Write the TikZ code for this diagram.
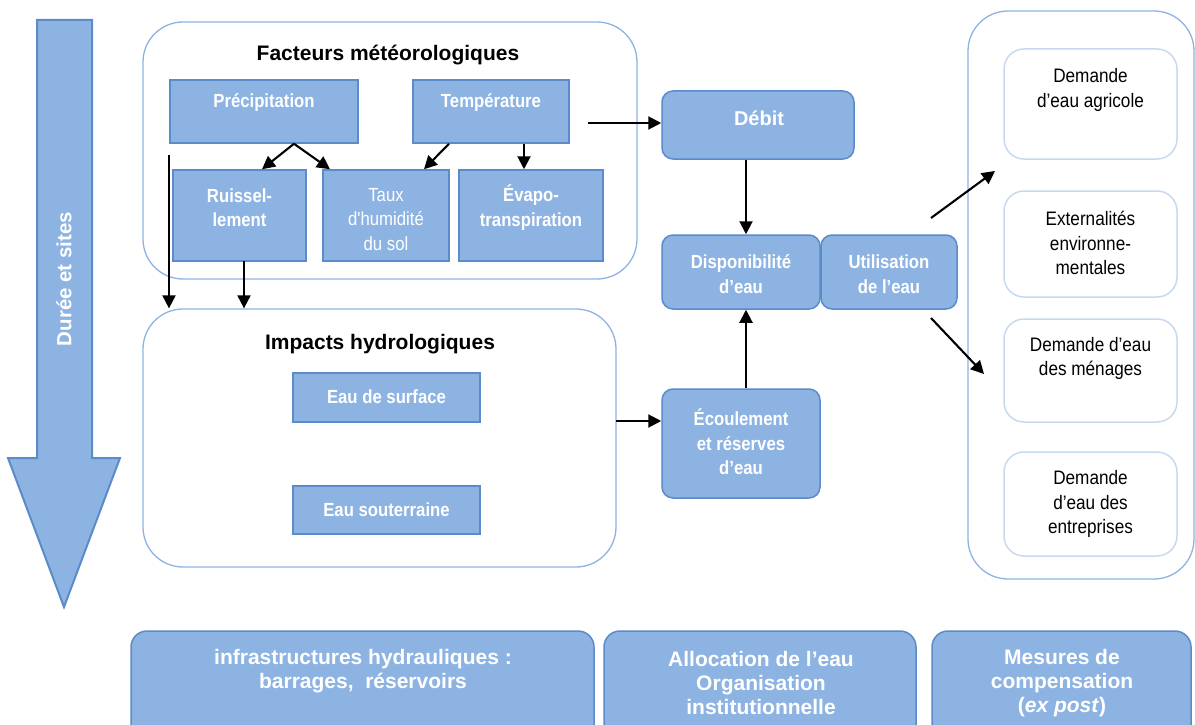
\documentclass[tikz,border=0pt]{standalone}
\usepackage{fontspec}
\setmainfont{Liberation Sans}
\newfontfamily\nar[FakeStretch=0.88]{Liberation Sans}
\usetikzlibrary{arrows.meta}
\definecolor{fillblue}{HTML}{8DB3E2}
\definecolor{edgeblue}{HTML}{5B8BC9}
\definecolor{contblue}{HTML}{8DB3E2}
\definecolor{paleblue}{HTML}{C6D9F1}
\begin{document}
\begin{tikzpicture}[x=1pt,y=-1pt,
  box/.style={rectangle, fill=fillblue, draw=edgeblue, line width=1.5pt, inner sep=0pt},
  rbox/.style={box, rounded corners=11pt},
  cont/.style={rectangle, draw=contblue, line width=1.3pt, rounded corners=40pt, inner sep=0pt},
  wbox/.style={rectangle, draw=paleblue, line width=1.5pt, rounded corners=20pt, inner sep=0pt},
  wl/.style={text=white, font=\nar\fontsize{19}{24.5}\selectfont\bfseries, align=center, inner sep=0pt},
  wb/.style={text=white, font=\fontsize{19}{24}\selectfont\bfseries, align=center, inner sep=0pt},
  wn/.style={text=white, font=\nar\fontsize{19}{24.5}\selectfont, align=center, inner sep=0pt},
  bl/.style={text=black, font=\nar\fontsize{19.5}{24.5}\selectfont, align=center, inner sep=0pt},
  ttl/.style={text=black, font=\fontsize{21}{25}\selectfont\bfseries, inner sep=0pt},
  arr/.style={line width=2.1pt, -{Triangle[length=13pt,width=13pt]}}
]
\useasboundingbox (0,0) rectangle (1195,725);
\clip (0,0) rectangle (1195,725);

% big arrow
\draw[fill=fillblue, draw=edgeblue, line width=2pt, line join=miter]
  (37,20) -- (92,20) -- (92,458) -- (120,458) -- (64,607) -- (8,458) -- (37,458) -- cycle;
\node[rotate=90, text=white, font=\fontsize{20.5}{24}\selectfont\bfseries, inner sep=0pt] (duree) at (64,279) {Durée et sites};

% containers
\node[cont, minimum width=494pt, minimum height=257pt] (fact) at (390,150.5) {};
\node[ttl] (factT) at (388,55) {Facteurs météorologiques};
\node[cont, minimum width=473pt, minimum height=258pt] (impacts) at (379.5,438) {};
\node[ttl] (impT) at (380,344) {Impacts hydrologiques};
\node[cont, minimum width=226pt, minimum height=568pt] (usage) at (1081,295) {};

% top boxes
\node[box, minimum width=188pt, minimum height=63pt] (precip) at (264,111.5) {};
\node[wl] (precipT) at (264,103) {Précipitation};
\node[box, minimum width=156pt, minimum height=63pt] (temp) at (491,111.5) {};
\node[wl] (tempT) at (491,103) {Température};
\node[box, minimum width=133pt, minimum height=91pt] (ruis) at (239.5,215.5) {};
\node[wl] (ruisT) at (239.5,207.5) {Ruissel-\\lement};
\node[box, minimum width=126pt, minimum height=91pt] (taux) at (386,215.5) {};
\node[wn] (tauxT) at (386,219.5) {Taux\\d'humidité\\du sol};
\node[box, minimum width=144pt, minimum height=91pt] (evap) at (531,215.5) {};
\node[wl] (evapT) at (531,207.5) {Évapo-\\transpiration};

% middle column
\node[rbox, minimum width=192pt, minimum height=68pt] (debit) at (758,125) {};
\node[wb, font=\fontsize{20}{24}\selectfont\bfseries] (debitT) at (759,118) {Débit};
\node[rbox, minimum width=158pt, minimum height=74pt] (dispo) at (741,272) {};
\node[wl] (dispoT) at (741,274) {Disponibilité\\d’eau};
\node[rbox, minimum width=136pt, minimum height=74pt] (util) at (889,272) {};
\node[wl] (utilT) at (889,274) {Utilisation\\de l’eau};
\node[rbox, minimum width=158pt, minimum height=109pt] (ecoul) at (741,443.5) {};
\node[wl] (ecoulT) at (741,442) {Écoulement\\et réserves\\d’eau};

% impacts boxes
\node[box, minimum width=187pt, minimum height=49pt] (surf) at (386.5,397.5) {};
\node[wl] (surfT) at (386.5,397) {Eau de surface};
\node[box, minimum width=187pt, minimum height=48pt] (sout) at (386.5,510) {};
\node[wl] (soutT) at (386.5,510) {Eau souterraine};

% right boxes
\node[wbox, minimum width=173pt, minimum height=110pt] (agri) at (1090.5,104) {};
\node[bl] (agriT) at (1090.5,90) {Demande\\d’eau agricole};
\node[wbox, minimum width=173pt, minimum height=106pt] (ext) at (1090.5,244) {};
\node[bl] (extT) at (1090.5,243) {Externalités\\environne-\\mentales};
\node[wbox, minimum width=173pt, minimum height=103pt] (men) at (1090.5,370.5) {};
\node[bl] (menT) at (1090.5,358.5) {Demande d’eau\\des ménages};
\node[wbox, minimum width=173pt, minimum height=104pt] (ent) at (1090.5,504) {};
\node[bl] (entT) at (1090.5,504) {Demande\\d’eau des\\entreprises};

% bottom boxes
\node[rbox, rounded corners=16pt, minimum width=463pt, minimum height=130pt] (infra) at (362.5,696) {};
\node[wb, font=\fontsize{21}{24}\selectfont\bfseries] (infraT) at (363,671) {infrastructures hydrauliques :\\barrages,\ \ réservoirs};
\node[rbox, rounded corners=16pt, minimum width=312pt, minimum height=130pt] (alloc) at (760,696) {};
\node[wb, font=\fontsize{21}{24}\selectfont\bfseries] (allocT) at (761,683) {Allocation de l’eau\\Organisation\\institutionnelle};
\node[rbox, rounded corners=16pt, minimum width=259pt, minimum height=130pt] (mesu) at (1061.5,696) {};
\node[wb, font=\fontsize{21}{24}\selectfont\bfseries] (mesuT) at (1062,683) {Mesures de\\compensation\\(\textit{ex post})};

% connectors
\draw[arr] ([xshift=30pt]precip.south) -- ([xshift=22.5pt]ruis.north);
\draw[arr] ([xshift=30pt]precip.south) -- ([xshift=-56pt]taux.north);
\draw[arr] ([xshift=-42pt]temp.south) -- ([xshift=38pt]taux.north);
\draw[arr] ([xshift=33pt]temp.south) -- ([xshift=-7pt]evap.north);
\coordinate (lstart) at (169,155);
\draw[arr] (lstart) -- (lstart |- impacts.north);
\coordinate (rstart) at (244,261);
\draw[arr] (rstart) -- (rstart |- impacts.north);
\coordinate (tstart) at (588,123);
\draw[arr] (tstart) -- (tstart -| debit.west);
\draw[arr] ([xshift=-12pt]debit.south) -- ([xshift=5pt]dispo.north);
\draw[arr] ([xshift=5pt]ecoul.north) -- ([xshift=5pt]dispo.south);
\coordinate (istart) at (616,421);
\draw[arr] (istart) -- (istart -| ecoul.west);
\coordinate (u1) at (931,218);
\coordinate (u1e) at (995,171);
\draw[arr] (u1) -- (u1e);
\coordinate (u2) at (931,318);
\coordinate (u2e) at (984,374);
\draw[arr] (u2) -- (u2e);
\end{tikzpicture}
\end{document}
